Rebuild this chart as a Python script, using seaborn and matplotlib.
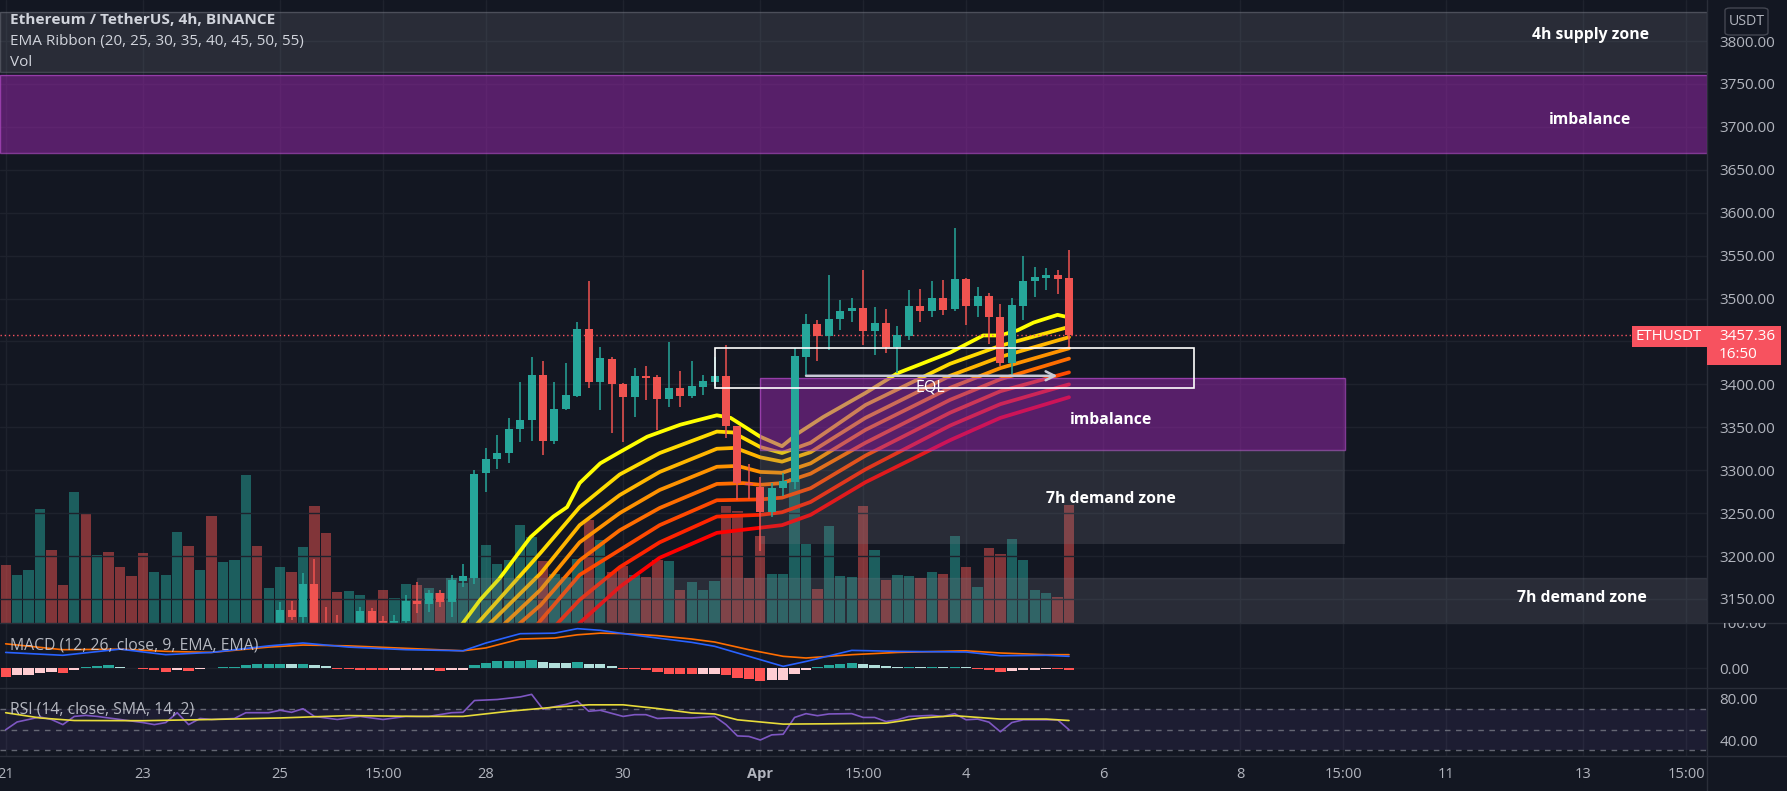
import numpy as np
import pandas as pd
import matplotlib
matplotlib.use("Agg")
import matplotlib.pyplot as plt
import seaborn as sns
from matplotlib.patches import Rectangle, FancyBboxPatch
from matplotlib.lines import Line2D
from matplotlib.transforms import blended_transform_factory, Bbox

# ------------------------------------------------------------------ data
FIRST_DAY = 21.0          # 21 Mar, first 4h bar shown
BAR = 1.0 / 6.0           # 4h in days

# relative volume per bar (bar 0 .. 93) and direction (1 = up / teal)
volume = [57.7, 48.3, 53.3, 114, 73, 37.7, 130.7, 109, 67.7, 71.3,
          55.7, 46.7, 70, 50.7, 47.7, 90.7, 76.7, 53.3, 106.7, 60.7,
          62.7, 148.3, 77.3, 34.7, 55.7, 50.7, 75.7, 116.7, 90, 30.7,
          32.3, 28.3, 23.3, 33.3, 24.7, 39.3, 38.3, 35, 30, 45,
          40, 45, 78.3, 59.3, 62.7, 98.3, 86, 62.3, 49.3, 46,
          64.3, 103.3, 83.3, 50.7, 56.7, 48.3, 45.7, 63.3, 61.7, 33.3,
          40.7, 32.7, 42.3, 117.3, 112.3, 44.7, 86.7, 49.3, 49.3, 145,
          79.3, 34, 97.3, 47.3, 46, 117.3, 73.3, 43.3, 48.3, 47.3,
          45, 50.7, 49.3, 87.3, 56, 35.7, 75, 69.3, 84, 62.7,
          32.7, 30, 26, 118.3]
vol_up = [0, 1, 1, 1, 0, 0, 1, 0, 1, 0,
          0, 0, 0, 1, 1, 1, 0, 1, 0, 1,
          1, 1, 0, 1, 1, 0, 1, 0, 0, 0,
          1, 1, 0, 0, 1, 1, 0, 1, 0, 1,
          1, 1, 1, 1, 1, 1, 1, 0, 1, 1,
          1, 0, 1, 0, 0, 1, 0, 0, 1, 0,
          1, 1, 1, 0, 0, 0, 0, 1, 1, 1,
          1, 0, 1, 1, 1, 0, 1, 0, 1, 1,
          0, 1, 0, 1, 0, 1, 0, 0, 1, 1,
          1, 1, 0, 0]

# OHLC of the bars that reach into the visible price range (bar 24 .. 93)
candle_start = 24
opens = [3122, 3137, 3129, 3168, 3112, 3104, 3100, 3112, 3136, 3124,
         3118, 3124, 3148, 3144, 3157, 3146, 3171, 3175, 3297, 3313,
         3320, 3348, 3358, 3411, 3334, 3371, 3387, 3465, 3403, 3430,
         3401, 3385, 3410, 3409, 3383, 3396, 3386, 3397, 3403, 3410,
         3351, 3285, 3281, 3251, 3279, 3286, 3432, 3470, 3456, 3476,
         3485, 3489, 3462, 3471, 3444, 3456, 3491, 3485, 3501, 3488,
         3523, 3491, 3503, 3479, 3425, 3491, 3520, 3524, 3527, 3524]
highs = [3146, 3148, 3180, 3196, 3141, 3131, 3118, 3141, 3140, 3130,
         3131, 3155, 3170, 3161, 3161, 3178, 3191, 3300, 3326, 3341,
         3361, 3403, 3432, 3427, 3403, 3425, 3473, 3520, 3444, 3432,
         3402, 3419, 3421, 3411, 3449, 3416, 3427, 3411, 3432, 3446,
         3352, 3307, 3292, 3285, 3297, 3442, 3482, 3475, 3527, 3498,
         3501, 3533, 3490, 3488, 3468, 3510, 3511, 3520, 3522, 3582,
         3524, 3514, 3507, 3494, 3501, 3549, 3537, 3536, 3533, 3557]
lows = [3112, 3126, 3120, 3100, 3095, 3092, 3090, 3108, 3112, 3110,
        3112, 3120, 3134, 3135, 3141, 3129, 3164, 3168, 3275, 3301,
        3308, 3333, 3334, 3318, 3331, 3370, 3385, 3396, 3370, 3343,
        3333, 3362, 3382, 3347, 3374, 3374, 3384, 3388, 3398, 3338,
        3265, 3266, 3206, 3245, 3270, 3278, 3410, 3427, 3440, 3463,
        3473, 3446, 3434, 3436, 3413, 3452, 3473, 3479, 3481, 3486,
        3469, 3479, 3447, 3421, 3410, 3475, 3502, 3510, 3505, 3442]
closes = [3137, 3129, 3168, 3110, 3104, 3100, 3112, 3136, 3120, 3118,
          3124, 3148, 3144, 3157, 3146, 3172, 3177, 3296, 3313, 3320,
          3348, 3358, 3411, 3334, 3371, 3388, 3465, 3403, 3431, 3401,
          3385, 3410, 3407, 3383, 3396, 3386, 3398, 3404, 3410, 3351,
          3285, 3283, 3251, 3279, 3287, 3433, 3470, 3456, 3476, 3486,
          3489, 3462, 3471, 3444, 3458, 3491, 3485, 3501, 3487, 3523,
          3491, 3503, 3479, 3425, 3492, 3520, 3525, 3527, 3523, 3457.36]
last_price = 3457.36

# EMA ribbon, read at bar positions (bar index, price)
ema20_idx = [38.0, 40.0, 41.5, 43.2, 45.9, 47.9, 49.1, 50.2, 52.0, 53.7, 56.1, 59.0, 62.2,
             63.4, 66.0, 67.9, 69.3, 71.5, 75.2, 78.0, 82.6, 85.5, 87.0, 88.5, 89.9, 92.0, 93.0]
ema20 = [3090, 3122, 3149, 3174, 3222, 3246, 3257, 3285, 3308, 3321, 3339, 3353, 3364,
         3361, 3339, 3328, 3343, 3362, 3390, 3413, 3437, 3457, 3457, 3463, 3472, 3481, 3478]
ema25_idx = [39.3, 41.3, 46.8, 50.2, 53.7, 57.2, 62.2, 63.6, 66.0, 67.9, 70.4, 75.2, 82.6, 87.0, 93.0]
ema25 = [3090, 3122, 3204, 3257, 3295, 3320, 3345, 3344, 3327, 3320, 3332, 3376, 3424, 3445, 3467]
ema30_idx = [40.4, 42.4, 46.8, 50.2, 53.7, 57.2, 62.2, 63.8, 66.0, 67.9, 70.4, 75.2, 82.6, 87.0, 93.0]
ema30 = [3090, 3122, 3180, 3236, 3271, 3298, 3325, 3326, 3315, 3310, 3321, 3361, 3410, 3432, 3455]
ema35_idx = [41.7, 43.7, 46.8, 50.2, 53.7, 57.2, 62.2, 64.0, 66.0, 67.9, 70.4, 75.2, 82.6, 87.0, 93.0]
ema35 = [3090, 3122, 3161, 3216, 3250, 3277, 3304, 3305, 3298, 3297, 3308, 3347, 3396, 3419, 3442]
ema40_idx = [43.0, 45.0, 46.8, 50.2, 53.7, 57.2, 62.2, 64.5, 66.0, 67.9, 70.4, 75.2, 82.6, 87.0, 93.0]
ema40 = [3090, 3122, 3143, 3195, 3230, 3256, 3284, 3285, 3283, 3285, 3296, 3332, 3382, 3406, 3430]
ema45_idx = [44.6, 46.6, 50.2, 53.7, 57.2, 62.2, 66.0, 67.9, 70.4, 75.2, 82.6, 87.0, 93.0]
ema45 = [3090, 3122, 3178, 3207, 3236, 3265, 3266, 3268, 3279, 3317, 3367, 3392, 3414]
ema50_idx = [46.3, 48.3, 50.2, 53.7, 57.2, 62.2, 66.0, 67.9, 70.4, 75.2, 82.6, 87.0, 93.0]
ema50 = [3090, 3122, 3149, 3187, 3216, 3246, 3248, 3251, 3263, 3301, 3352, 3377, 3400]
ema55_idx = [48.2, 50.2, 53.7, 57.2, 62.2, 66.0, 67.9, 70.4, 75.2, 82.6, 87.0, 93.0]
ema55 = [3090, 3122, 3164, 3198, 3227, 3233, 3236, 3248, 3286, 3335, 3361, 3385]

# MACD (12, 26, 9)
macd_idx = [0, 5, 10, 14, 18, 23, 26, 30, 35, 40, 42, 45, 48, 50, 52, 54, 57, 60, 62, 65,
            68, 70, 74, 78, 84, 87, 91, 93]
macd_line = [38, 31, 46, 32.5, 38, 54, 61, 51, 44.7, 42, 61, 83.7, 85, 96, 92, 84, 73, 62.6,
             53, 28.5, 4, 16, 43, 40.6, 39, 30, 31, 28.5]
signal_line = [59, 44.6, 46, 40.6, 38, 51, 56, 54, 48, 42, 49, 70.7, 73, 81, 85, 84, 79, 70.7,
               63.4, 44.7, 28.5, 24.4, 32.5, 38, 42, 36.6, 32.5, 32.5]
macd_hist = [-22, -18, -16, -11, -10, -12, -4, 2, 6, 6.2,
             3, 1, -3, -6, -10, -4, -6.5, -1.6, -1.2, 2.4,
             3, 7.3, 9.8, 10, 10.2, 9.8, 10.6, 8, 5, -1.6,
             -3, -4, -4.5, -6, -5.8, -5.6, -5.4, -5.2, -6.5, -4,
             -3.8, 8, 12, 16, 17, 17.2, 19.5, 14.6, 12, 11.8,
             14.6, 10.6, 10.4, 5.7, -1.6, -3, -5.7, -9.8, -13.8, -15.4,
             -15.6, -13.8, -13.6, -17.9, -24.4, -26, -31.7, -30, -29.8, -13.8,
             -4, 2.4, 8, 10.6, 13, 9.8, 8, 5.7, 3, 3.2,
             3.0, 3.2, 3.0, 3.2, 1.6, -1.6, -4, -9.8, -8, -5.7,
             -4, -1.6, -2.4, -5.7]

# RSI (14) and its SMA (14)
rsi_idx = [0, 1, 2, 3, 4, 5, 6, 7, 8, 10, 12, 13, 14, 15, 16, 17, 18, 20, 21, 23,
           24, 25, 26, 27, 29, 31, 33, 35, 37, 39, 40, 41, 43, 45, 46, 47, 48, 49, 50, 51,
           52, 54, 55, 56, 57, 58, 60, 62, 63, 64, 65, 66, 67, 68, 69, 70, 71, 72, 74, 75,
           76, 77, 78, 79, 81, 82, 83, 84, 85, 86, 87, 88, 89, 91, 92, 93]
rsi = [50, 57.6, 60, 62.5, 60, 55, 63, 64, 63, 60, 57, 55, 57, 66.6, 55, 61, 60, 61, 66.6, 66.6,
       69, 67, 70.5, 63, 60, 63, 60, 63, 63, 66.6, 67, 78.5, 79.5, 82, 84.5, 70, 72.5, 74.7, 78, 68,
       69, 63, 64.7, 64.7, 61, 61.5, 61.5, 63, 55, 44, 43.5, 40, 45, 45.6, 62, 65.7, 63.7, 65.4, 65.7, 62,
       62, 58, 59.7, 63, 64, 63, 65.7, 59.7, 60.4, 57.4, 48, 57, 59.7, 59.7, 59.7, 50]
rsi_sma_idx = [0, 3, 6, 12, 18, 24, 30, 36, 40, 44, 48, 51, 54, 57, 60, 62, 64, 68, 72, 77,
               80, 83, 87, 91, 93]
rsi_sma = [66.6, 61.5, 59, 58.8, 60, 61.5, 63.8, 63, 63, 68, 72, 74.3, 74.3, 70.7, 66.4, 65.4,
           59.7, 55.5, 55.8, 56.4, 61.4, 63.7, 60.4, 60.4, 59]

# zones (price levels) and time labels
supply_4h = (3764, 3834)
imbalance_top = (3669, 3761)
imbalance_low = (3324, 3408)
demand_7h_mid = (3214, 3324)
demand_7h_low = (3000, 3175)
zone_low_days = (32.0, 40.53)
demand_low_start = 27.0
eql_box = (31.333, 38.32, 3396, 3442)
eql_level = 3410
eql_from, eql_to = 32.667, 36.33

tick_days = [21, 23, 25, 26.5, 28, 30, 32, 33.5, 35, 37, 39, 40.5, 42, 44, 45.5]
tick_labels = ["21", "23", "25", "15:00", "28", "30", "Apr", "15:00", "4", "6", "8",
               "15:00", "11", "13", "15:00"]
price_ticks = list(range(3150, 3801, 50))

# ------------------------------------------------------------------ style
BG = "#131722"
GRID = "#1e222d"
SEP = "#2a2e39"
TXT = "#b2b5be"
LEG = "#d1d4dc"
UP = "#26a69a"
DN = "#ef5350"

sns.set_theme(style="dark", rc={"axes.facecolor": BG, "figure.facecolor": BG,
                                "axes.edgecolor": BG, "grid.color": GRID})
plt.rcParams["font.family"] = ["Open Sans", "DejaVu Sans"]

W, H = 1787, 791
PLOT_R = 1707
fig = plt.figure(figsize=(W / 100, H / 100), dpi=100, facecolor=BG)


def rect(x0, y0, x1, y1):
    return [x0 / W, 1 - y1 / H, (x1 - x0) / W, (y1 - y0) / H]


ax_vol = fig.add_axes(rect(0, 0, PLOT_R, 623), zorder=0)
ax = fig.add_axes(rect(0, 0, PLOT_R, 623), zorder=1)
ax.patch.set_visible(False)
ax_macd = fig.add_axes(rect(0, 623, PLOT_R, 688))
ax_rsi = fig.add_axes(rect(0, 688, PLOT_R, 756))

x_left = FIRST_DAY - 0.083
x_right = x_left + PLOT_R / 68.6
for a in (ax_vol, ax, ax_macd, ax_rsi):
    a.set_xlim(x_left, x_right)
    if a is not ax:
        a.set_facecolor(BG)
    for s in a.spines.values():
        s.set_visible(False)
    a.set_xticks(tick_days)
    a.tick_params(length=0)
    a.grid(False)

for a in (ax_vol, ax_macd, ax_rsi):
    a.grid(True, axis="x", color=GRID, lw=1)
ax_vol.set_xticklabels([])
ax.set_xticklabels([])
ax_macd.set_xticklabels([])
ax_vol.set_yticks([])

AXFS = 11.0

# ---------------------------------------------------------------- volume
vx = FIRST_DAY + np.arange(len(volume)) * BAR
vcol = [UP if u else DN for u in vol_up]
ax_vol.bar(vx, volume, width=0.9 * BAR, color=vcol, alpha=0.5, linewidth=0)
ax_vol.set_ylim(0, max(volume) / 0.238)

# ---------------------------------------------------------------- price axes
ax.set_ylim(3122, 3847.8)
ax.yaxis.tick_right()
ax.set_yticks(price_ticks)
# the label under the last-price tag is hidden, as on the reference
ax.set_yticklabels(["" if abs(p - last_price) < 25 else f"{p:.2f}" for p in price_ticks])
ax.tick_params(axis="y", colors=TXT, labelsize=AXFS, pad=9)
for p in price_ticks:
    ax.axhline(p, color=GRID, lw=1, zorder=0.5)

# EMA ribbon
ema_sets = [(20, ema20_idx, ema20), (25, ema25_idx, ema25), (30, ema30_idx, ema30),
            (35, ema35_idx, ema35), (40, ema40_idx, ema40), (45, ema45_idx, ema45),
            (50, ema50_idx, ema50), (55, ema55_idx, ema55)]
rows = []
for per, idx, vals in ema_sets:
    for i, v in zip(idx, vals):
        rows.append({"day": FIRST_DAY + i * BAR, "price": v, "ema": f"EMA{per}"})
ema_df = pd.DataFrame(rows)
ribbon_colors = [plt.cm.autumn(1 - j / 7) for j in range(8)]
sns.lineplot(data=ema_df, x="day", y="price", hue="ema", palette=ribbon_colors,
             estimator=None, sort=False, legend=False, lw=2.7, ax=ax, zorder=2,
             solid_joinstyle="round", solid_capstyle="round")
ax.set_xlabel("")
ax.set_ylabel("")

# zones
blend = blended_transform_factory(ax.transAxes, ax.transData)
GRAYZ = "#787b86"
PURP = "#9c27b0"
ax.add_patch(Rectangle((0, supply_4h[0]), 1, supply_4h[1] - supply_4h[0], transform=blend,
                       fc=GRAYZ, alpha=0.22, ec="none", zorder=3))
ax.add_patch(Rectangle((0, supply_4h[0]), 1, supply_4h[1] - supply_4h[0], transform=blend,
                       fill=False, ec=GRAYZ, alpha=0.45, lw=1, zorder=3))
ax.add_patch(Rectangle((0, imbalance_top[0]), 1, imbalance_top[1] - imbalance_top[0],
                       transform=blend, fc=PURP, alpha=0.5, ec="none", zorder=3))
ax.add_patch(Rectangle((0, imbalance_top[0]), 1, imbalance_top[1] - imbalance_top[0],
                       transform=blend, fill=False, ec="#b04ac4", alpha=0.7, lw=1, zorder=3))
zw = zone_low_days[1] - zone_low_days[0]
ax.add_patch(Rectangle((zone_low_days[0], imbalance_low[0]), zw, imbalance_low[1] - imbalance_low[0],
                       fc=PURP, alpha=0.5, ec="none", zorder=3))
ax.add_patch(Rectangle((zone_low_days[0], imbalance_low[0]), zw, imbalance_low[1] - imbalance_low[0],
                       fill=False, ec="#b04ac4", alpha=0.7, lw=1, zorder=3))
ax.add_patch(Rectangle((zone_low_days[0], demand_7h_mid[0]), zw, demand_7h_mid[1] - demand_7h_mid[0],
                       fc=GRAYZ, alpha=0.22, ec="none", zorder=3))
ax.add_patch(Rectangle((demand_low_start, demand_7h_low[0]), x_right - demand_low_start,
                       demand_7h_low[1] - demand_7h_low[0], fc=GRAYZ, alpha=0.22,
                       ec=GRAYZ, lw=1, zorder=3))

zone_font = dict(color="white", fontsize=11.3, fontweight="bold", ha="center", va="center", zorder=6)
lab_x_right = x_left + 1590 / 68.6
lab_x_mid = x_left + 1111 / 68.6
ax.text(lab_x_right, 3807, "4h supply zone", **zone_font)
ax.text(lab_x_right, 3708, "imbalance", **zone_font)
ax.text(lab_x_mid, 3358, "imbalance", **zone_font)
ax.text(lab_x_mid, 3266, "7h demand zone", **zone_font)
ax.text(x_left + 1582 / 68.6, 3151, "7h demand zone", **zone_font)

# candles
cx = FIRST_DAY + (candle_start + np.arange(len(opens))) * BAR
o = np.array(opens, float)
c = np.array(closes, float)
ccol = [UP if cc >= oo else DN for oo, cc in zip(o, c)]
ax.vlines(cx, lows, highs, colors=ccol, lw=1.1, zorder=5)
ax.bar(cx, np.maximum(np.abs(c - o), 1.2), bottom=np.minimum(o, c), width=0.7 * BAR,
       color=ccol, linewidth=0, zorder=5.1)

# EQL
ax.add_patch(Rectangle((eql_box[0], eql_box[2]), eql_box[1] - eql_box[0], eql_box[3] - eql_box[2],
                       fill=False, ec="white", lw=1.2, zorder=5.5))
ax.annotate("", xy=(eql_to, eql_level), xytext=(eql_from, eql_level),
            arrowprops=dict(arrowstyle="->", color="#c8c9d6", lw=1.8, mutation_scale=16,
                            shrinkA=0, shrinkB=0), zorder=5.5)
ax.text((eql_from + eql_to) / 2 - 0.02, eql_box[2], "EQL", color="white", fontsize=11.5,
        ha="center", va="center", zorder=6)

# last price line
ax.axhline(last_price, color="#f7525f", lw=1, ls=(0, (1, 2)), zorder=4)

# ---------------------------------------------------------------- MACD
hx = FIRST_DAY + np.arange(len(macd_hist)) * BAR
hcol = []
for i, v in enumerate(macd_hist):
    prev = macd_hist[i - 1] if i else v
    if v >= 0:
        hcol.append("#26a69a" if v > prev else "#b2dfdb")
    else:
        hcol.append("#ffcdd2" if v > prev else "#ff5252")
ax_macd.bar(hx, macd_hist, width=0.9 * BAR, color=hcol, linewidth=0, zorder=2)
mdf = pd.DataFrame({"day": FIRST_DAY + np.array(macd_idx) * BAR, "macd": macd_line,
                    "signal": signal_line})
sns.lineplot(data=mdf, x="day", y="signal", color="#ff6d00", lw=1.2, ax=ax_macd, zorder=3)
sns.lineplot(data=mdf, x="day", y="macd", color="#2962ff", lw=1.2, ax=ax_macd, zorder=3)
ax_macd.set_ylim(-48.8, 109.8)
ax_macd.yaxis.tick_right()
ax_macd.set_yticks([0, 100])
ax_macd.set_yticklabels(["0.00", ""])
ax_macd.tick_params(axis="y", colors=TXT, labelsize=AXFS, pad=9)
ax_macd.axhline(0, color=GRID, lw=1, zorder=0.5)
ax_macd.set_xlabel("")
ax_macd.set_ylabel("")
# top label of the MACD scale is cut by the pane border, as on the reference
t100 = fig.text(1720 / W, 1 - 624.5 / H, "100.00", color=TXT, fontsize=AXFS,
                ha="left", va="center")
t100.set_clip_box(Bbox.from_extents(0, 0, W, H - 623))
t100.set_clip_on(True)

# ---------------------------------------------------------------- RSI
ax_rsi.axhspan(30, 70, color="#7e57c2", alpha=0.1, lw=0, zorder=1)
for lvl in (70, 50, 30):
    ax_rsi.axhline(lvl, color="#787b86", lw=1, ls=(0, (4, 4)), alpha=0.8, zorder=1.5)
rdf = pd.DataFrame({"day": FIRST_DAY + np.array(rsi_idx) * BAR, "rsi": rsi})
sdf = pd.DataFrame({"day": FIRST_DAY + np.array(rsi_sma_idx) * BAR, "sma": rsi_sma})
sns.lineplot(data=rdf, x="day", y="rsi", color="#7e57c2", lw=1.2, ax=ax_rsi, zorder=3)
sns.lineplot(data=sdf, x="day", y="sma", color="#e8dc3a", lw=1.2, ax=ax_rsi, zorder=3)
ax_rsi.set_ylim(24.4, 90.7)
ax_rsi.yaxis.tick_right()
ax_rsi.set_yticks([40, 80])
ax_rsi.set_yticklabels(["40.00", "80.00"])
ax_rsi.tick_params(axis="y", colors=TXT, labelsize=AXFS, pad=9)
ax_rsi.set_xticks(tick_days)
ax_rsi.set_xticklabels(tick_labels)
ax_rsi.tick_params(axis="x", colors=TXT, labelsize=10.5, pad=8)
for t in ax_rsi.get_xticklabels():
    if t.get_text() == "Apr":
        t.set_fontweight("bold")
ax_rsi.set_xlabel("")
ax_rsi.set_ylabel("")

# ---------------------------------------------------------------- frame / UI
for yy in (623, 688, 756):
    fig.add_artist(Line2D([0, 1], [1 - yy / H] * 2, color=SEP, lw=1))
fig.add_artist(Line2D([PLOT_R / W] * 2, [0, 1], color=SEP, lw=1))

fig.text(10 / W, 1 - 20 / H, "Ethereum / TetherUS, 4h, BINANCE", color=LEG, fontsize=11.1,
         fontweight="bold", va="center", ha="left")
fig.text(10 / W, 1 - 42 / H, "EMA Ribbon (20, 25, 30, 35, 40, 45, 50, 55)", color=LEG,
         fontsize=11.0, va="center", ha="left")
fig.text(10 / W, 1 - 63 / H, "Vol", color=LEG, fontsize=11.0, va="center", ha="left")
fig.text(10 / W, 1 - 645 / H, "MACD (12, 26, close, 9, EMA, EMA)", color=LEG, fontsize=11.3,
         va="center", ha="left", alpha=0.85)
fig.text(10 / W, 1 - 710 / H, "RSI (14, close, SMA, 14, 2)", color=LEG, fontsize=11.3,
         va="center", ha="left", alpha=0.85)

# USDT box
fig.add_artist(FancyBboxPatch((1725 / W, 1 - 35 / H), 43 / W, 27 / H,
                              boxstyle="round,pad=0,rounding_size=0.003",
                              fc=BG, ec="#434651", lw=1, transform=fig.transFigure))
fig.text(1746.5 / W, 1 - 21.5 / H, "USDT", color=TXT, fontsize=10.2, ha="center", va="center")

# last price tags
py = H - ax.transData.transform((x_left, last_price))[1]
TAG = "#f7525f"
fig.add_artist(Rectangle((1632 / W, 1 - (py + 12) / H), 75 / W, 21 / H, fc=TAG, ec="none",
                         transform=fig.transFigure, zorder=5))
fig.add_artist(Rectangle((PLOT_R / W, 1 - (py + 30) / H), 74 / W, 39 / H, fc=TAG, ec="none",
                         transform=fig.transFigure, zorder=5))
fig.text(1669 / W, 1 - (py + 1.5) / H, "ETHUSDT", color="white", fontsize=10.8, ha="center",
         va="center", zorder=6)
fig.text(1719 / W, 1 - (py + 1.5) / H, f"{last_price:.2f}", color="white", fontsize=AXFS,
         ha="left", va="center", zorder=6)
fig.text(1719 / W, 1 - (py + 19.5) / H, "16:50", color="white", fontsize=AXFS,
         ha="left", va="center", zorder=6)

fig.savefig("out.png", dpi=100, facecolor=BG)
